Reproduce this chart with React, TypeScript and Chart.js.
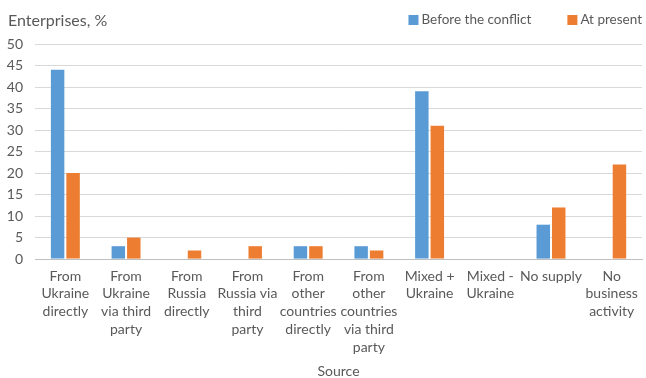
import React, { useEffect, useRef } from "react";
import { Chart, registerables } from "chart.js";

Chart.register(...registerables);

const categories: string[][] = [
  ["From", "Ukraine", "directly"],
  ["From", "Ukraine", "via third", "party"],
  ["From", "Russia", "directly"],
  ["From", "Russia via", "third", "party"],
  ["From", "other", "countries", "directly"],
  ["From", "other", "countries", "via third", "party"],
  ["Mixed +", "Ukraine"],
  ["Mixed -", "Ukraine"],
  ["No supply"],
  ["No", "business", "activity"],
];
const beforeConflict = [44, 3, 0, 0, 3, 3, 39, 0, 8, 0];
const atPresent = [20, 5, 2, 3, 3, 2, 31, 0, 12, 22];
const seriesNames = ["Before the conflict", "At present"];
const seriesColors = ["#5B9BD5", "#ED7D31"];
const yTitle = "Enterprises, %";
const xTitle = "Source";

const FONT = "Lato, 'Open Sans', sans-serif";
const GRAY = "#595959";

const topTextPlugin = {
  id: "topText",
  afterDraw(chart: any) {
    const ctx = chart.ctx;
    ctx.save();
    ctx.font = `16px ${FONT}`;
    ctx.fillStyle = GRAY;
    ctx.textAlign = "left";
    ctx.textBaseline = "middle";
    ctx.fillText(yTitle, 8, 21);

    // legend, right aligned
    ctx.font = `13.5px ${FONT}`;
    const gapItems = 36;
    const box = 10;
    const boxGap = 3;
    const right = 642;
    const widths = chart.data.datasets.map((d: any) => ctx.measureText(d.label).width);
    let total = 0;
    widths.forEach((w: number, i: number) => {
      total += box + boxGap + w + (i > 0 ? gapItems : 0);
    });
    let x = right - total;
    const cy = 20;
    chart.data.datasets.forEach((d: any, i: number) => {
      ctx.fillStyle = d.backgroundColor;
      ctx.fillRect(x, cy - box / 2, box, box);
      x += box + boxGap;
      ctx.fillStyle = GRAY;
      ctx.fillText(d.label, x, cy);
      x += widths[i] + gapItems;
    });
    ctx.restore();
  },
};

export default function App() {
  const ref = useRef<HTMLCanvasElement>(null);
  useEffect(() => {
    const chart = new Chart(ref.current!, {
      type: "bar",
      data: {
        labels: categories,
        datasets: [
          {
            label: seriesNames[0],
            data: beforeConflict,
            backgroundColor: seriesColors[0],
            categoryPercentage: 0.51,
            barPercentage: 0.87,
          },
          {
            label: seriesNames[1],
            data: atPresent,
            backgroundColor: seriesColors[1],
            categoryPercentage: 0.51,
            barPercentage: 0.87,
          },
        ],
      },
      options: {
        animation: false,
        responsive: false,
        maintainAspectRatio: false,
        layout: { padding: { left: 0, right: 2, top: 44, bottom: 0 } },
        plugins: {
          legend: { display: false },
          tooltip: { enabled: false },
        },
        scales: {
          x: {
            grid: { display: false, drawTicks: false },
            border: { color: "#BFBFBF" },
            ticks: {
              color: GRAY,
              font: { family: FONT, size: 14, lineHeight: 1.27 },
              maxRotation: 0,
              autoSkip: false,
              padding: 8,
            },
            title: {
              display: true,
              text: xTitle,
              color: GRAY,
              font: { family: FONT, size: 14, lineHeight: 1 },
              padding: { top: 0, bottom: 0 },
            },
          },
          y: {
            min: 0,
            max: 50,
            afterFit: (scale: any) => {
              scale.width = 35;
            },
            ticks: {
              stepSize: 5,
              color: GRAY,
              font: { family: FONT, size: 14 },
              padding: 12,
            },
            grid: { color: "#D9D9D9", drawTicks: false },
            border: { display: false },
          },
        },
      },
      plugins: [topTextPlugin],
    });
    return () => chart.destroy();
  }, []);
  return (
    <div style={{ position: "fixed", left: 0, top: 0, width: 646, height: 378, background: "#fff" }}>
      <canvas ref={ref} width={646} height={378} />
    </div>
  );
}
